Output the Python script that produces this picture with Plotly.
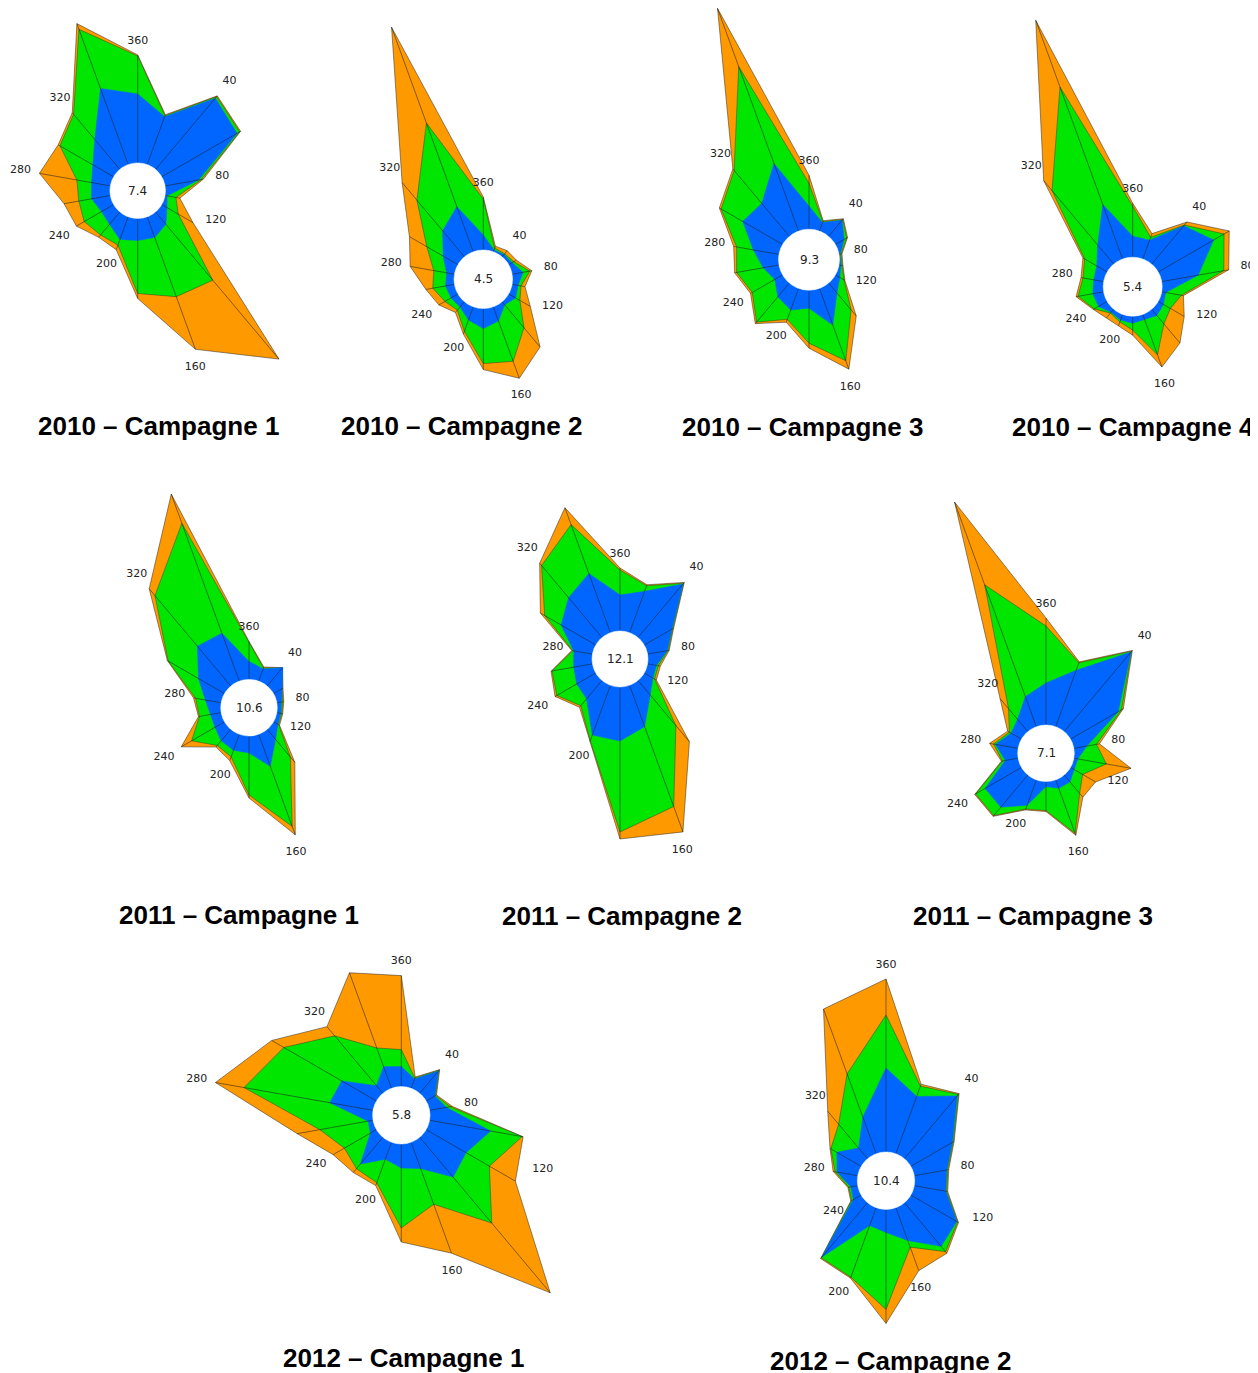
import math
import plotly.graph_objects as go

# ---------------- data ----------------
DIRECTIONS = [20, 40, 60, 80, 100, 120, 140, 160, 180, 200, 220, 240, 260, 280, 300, 320, 340, 360]
LABEL_DIRS = [40, 80, 120, 160, 200, 240, 280, 320, 360]

TITLES = ["2010 – Campagne 1", "2010 – Campagne 2", "2010 – Campagne 3", "2010 – Campagne 4",
          "2011 – Campagne 1", "2011 – Campagne 2", "2011 – Campagne 3",
          "2012 – Campagne 1", "2012 – Campagne 2"]
CALMS = [7.4, 4.5, 9.3, 5.4, 10.6, 12.1, 7.1, 5.8, 10.4]

# three stacked classes per direction (blue = inner, green = middle, orange = outer)
c2010_1_blue = [5.1, 9.3, 8.7, 3.4, 0.2, 0.6, 1.6, 2.2, 2.2, 2.4, 1.6, 1.4, 1.9, 1.9, 2.4, 3.9, 8.1, 6.9]
c2010_1_green = [0.1, 0.2, 0.3, 0.3, 0.9, 1.3, 7.3, 6.3, 5.3, 0.6, 1.4, 2.0, 1.3, 1.5, 3.8, 3.3, 6.3, 3.8]
c2010_1_orange = [0.1, 0.1, 0.1, 0.2, 0.4, 1.7, 10.3, 5.6, 0.5, 0.5, 0.3, 0.9, 1.5, 3.8, 0.2, 0.2, 0.6, 0.1]

c2010_2_blue = [0.2, 0.3, 0.4, 1.1, 0.6, 0.8, 0.4, 1.5, 2.0, 1.4, 0.7, 0.8, 0.9, 0.8, 1.7, 3.4, 4.8, 1.5]
c2010_2_green = [0.2, 0.1, 0.2, 0.7, 0.3, 0.5, 3.0, 4.3, 3.5, 1.2, 0.4, 0.7, 1.3, 1.3, 1.9, 4.0, 8.9, 3.6]
c2010_2_orange = [0.2, 0.4, 0.3, 0.2, 0.4, 1.2, 2.5, 1.8, 0.6, 0.3, 0.3, 0.7, 0.7, 2.4, 2.0, 2.3, 10.2, 0.2]

c2010_3_blue = [0.9, 2.1, 1.0, 0.1, 0.2, 0.5, 1.3, 3.9, 1.8, 2.3, 1.8, 0.9, 1.6, 2.6, 4.6, 4.3, 7.2, 2.3]
c2010_3_green = [0.1, 0.1, 0.3, 0.1, 0.1, 0.5, 2.2, 3.8, 3.5, 1.0, 3.3, 2.6, 2.7, 1.7, 2.5, 4.3, 10.3, 2.3]
c2010_3_orange = [0.1, 0.1, 0.1, 0.1, 0.1, 0.1, 0.8, 0.9, 0.5, 0.3, 0.2, 0.2, 0.2, 0.3, 0.2, 0.2, 6.2, 0.8]

c2010_4_blue = [2.0, 5.0, 6.4, 3.7, 0.4, 0.6, 0.8, 0.5, 0.7, 0.6, 0.4, 1.0, 1.1, 1.0, 1.2, 2.5, 5.8, 2.1]
c2010_4_green = [0.3, 0.1, 1.2, 2.6, 1.6, 0.8, 1.1, 3.8, 0.7, 0.2, 0.1, 0.5, 1.5, 1.1, 1.4, 7.1, 12.5, 3.0]
c2010_4_orange = [0.4, 0.4, 0.6, 0.5, 0.2, 1.6, 2.5, 1.3, 0.5, 0.4, 0.6, 0.1, 0.2, 0.2, 0.2, 1.3, 7.1, 0.3]

c2011_1_blue = [1.3, 2.4, 1.0, 0.5, 0.4, 0.5, 1.3, 3.4, 1.7, 1.7, 1.5, 1.1, 1.1, 1.6, 3.0, 5.2, 5.1, 1.8]
c2011_1_green = [0.1, 0.0, 0.0, 0.1, 0.1, 0.1, 2.3, 6.4, 4.2, 0.7, 0.6, 2.7, 1.1, 1.0, 3.5, 6.6, 11.7, 1.8]
c2011_1_orange = [0.1, 0.0, 0.1, 0.1, 0.1, 0.1, 0.7, 0.9, 0.3, 0.4, 0.2, 1.2, 0.1, 0.2, 0.1, 0.9, 3.1, 0.2]

c2011_2_blue = [4.4, 7.0, 3.2, 2.0, 0.9, 1.0, 1.9, 4.4, 5.4, 5.3, 2.4, 2.2, 1.9, 1.9, 4.0, 5.2, 6.3, 3.6]
c2011_2_green = [0.6, 0.1, 0.1, 0.1, 0.2, 0.2, 4.0, 8.5, 9.1, 0.6, 0.9, 2.3, 2.2, 0.1, 1.9, 4.2, 5.2, 2.5]
c2011_2_orange = [0.1, 0.1, 0.1, 0.1, 0.2, 0.2, 2.1, 2.7, 0.7, 0.1, 0.2, 0.2, 0.1, 0.1, 0.5, 0.3, 1.8, 0.2]

c2011_3_blue = [6.0, 10.4, 5.5, 1.3, 0.4, 0.4, 0.9, 0.9, 0.5, 2.7, 4.2, 4.2, 1.3, 2.3, 1.2, 1.6, 3.2, 4.2]
c2011_3_green = [0.8, 0.1, 0.4, 1.0, 2.9, 1.0, 1.5, 4.8, 2.4, 0.4, 1.1, 1.1, 0.3, 0.2, 0.2, 1.4, 11.9, 5.7]
c2011_3_orange = [0.1, 0.1, 0.2, 0.3, 2.5, 1.5, 0.5, 0.2, 0.1, 0.1, 0.1, 0.1, 0.1, 0.4, 0.2, 1.3, 8.8, 0.8]

c2012_1_blue = [1.0, 2.9, 1.0, 1.7, 6.2, 4.6, 5.2, 2.8, 2.4, 1.8, 3.5, 0.7, 0.5, 4.4, 4.0, 1.0, 2.3, 2.0]
c2012_1_green = [0.1, 0.1, 0.1, 0.4, 3.2, 2.7, 6.0, 3.8, 6.0, 2.5, 0.6, 3.0, 4.9, 8.7, 6.7, 6.5, 2.0, 1.7]
c2012_1_orange = [0.1, 0.1, 0.1, 0.2, 0.1, 3.0, 9.1, 5.2, 1.4, 0.3, 0.5, 1.3, 2.3, 2.9, 1.4, 1.2, 8.0, 7.4]

c2012_2_blue = [6.1, 8.2, 4.8, 3.3, 3.2, 5.3, 5.7, 3.5, 2.3, 1.9, 7.1, 0.9, 0.7, 2.1, 2.8, 1.4, 3.9, 8.4]
c2012_2_green = [1.1, 0.2, 0.1, 0.1, 0.1, 0.1, 0.7, 0.7, 7.7, 5.5, 0.1, 0.2, 0.2, 0.2, 0.7, 3.1, 4.6, 5.3]
c2012_2_orange = [0.2, 0.1, 0.1, 0.1, 0.1, 0.1, 0.2, 2.5, 1.4, 0.1, 0.1, 0.1, 0.1, 0.2, 0.1, 1.7, 6.9, 3.6]

SERIES = [
    (c2010_1_blue, c2010_1_green, c2010_1_orange),
    (c2010_2_blue, c2010_2_green, c2010_2_orange),
    (c2010_3_blue, c2010_3_green, c2010_3_orange),
    (c2010_4_blue, c2010_4_green, c2010_4_orange),
    (c2011_1_blue, c2011_1_green, c2011_1_orange),
    (c2011_2_blue, c2011_2_green, c2011_2_orange),
    (c2011_3_blue, c2011_3_green, c2011_3_orange),
    (c2012_1_blue, c2012_1_green, c2012_1_orange),
    (c2012_2_blue, c2012_2_green, c2012_2_orange),
]

# ---------------- layout / style ----------------
PAGE_MARGIN = 8                      # default body margin of the html page
W, H = 1258 - PAGE_MARGIN, 1373 - PAGE_MARGIN
PX_PER_UNIT = 10.0
# (center x px, center y px, calm-hole radius px) in page pixels
CHART_POS = [
    (137.7, 190.7, 27.8), (483.3, 279.3, 29.3), (809.0, 259.7, 30.5), (1132.7, 286.7, 29.5),
    (249.0, 707.7, 28.3), (620.0, 659.0, 28.0), (1046.0, 753.3, 28.3),
    (401.3, 1115.3, 28.7), (886.0, 1180.7, 28.7),
]
TITLE_POS = [(158, 426), (461, 426), (802, 427), (1133, 427),
             (239, 915), (622, 916), (1033, 916),
             (403, 1358), (890, 1361)]
# small angular nudges of the direction labels (degrees), as in the original layout
LABEL_ANGLE_NUDGE = {120: -9, 160: 2, 200: 3}

BLUE = "#0066FF"
GREEN = "#00E600"
ORANGE = "#FF9900"
EDGE = "rgba(40,40,40,0.85)"
LABEL_FONT = dict(family="DejaVu Sans", size=11, color="#222222")


def xy(radius, deg):
    a = math.radians(deg)
    return radius * math.sin(a), radius * math.cos(a)


fig = go.Figure()
layout_axes = {}
annotations = []
shapes = []

for i, (blue, green, orange) in enumerate(SERIES):
    n = i + 1
    xa, ya = ("x", "y") if n == 1 else (f"x{n}", f"y{n}")
    cx, cy, hole_px = CHART_POS[i]
    cx -= PAGE_MARGIN
    cy -= PAGE_MARGIN
    hole = hole_px / PX_PER_UNIT

    cum1 = list(blue)
    cum2 = [a + b for a, b in zip(cum1, green)]
    cum3 = [a + b for a, b in zip(cum2, orange)]

    common = dict(xaxis=xa, yaxis=ya, hoverinfo="skip", showlegend=False)

    for cum, fc, lc, lw in ((cum3, ORANGE, EDGE, 0.6), (cum2, GREEN, EDGE, 0.5), (cum1, BLUE, BLUE, 0.5)):
        pts = [xy(hole + v, d) for v, d in zip(cum, DIRECTIONS)]
        pts.append(pts[0])
        fig.add_trace(go.Scatter(x=[p[0] for p in pts], y=[p[1] for p in pts], mode="lines",
                                 fill="toself", fillcolor=fc, line=dict(color=lc, width=lw), **common))

    # rays from the calm circle to the outer vertex
    rx, ry = [], []
    for d, v in zip(DIRECTIONS, cum3):
        x0, y0 = xy(hole, d)
        x1, y1 = xy(hole + v, d)
        rx += [x0, x1, None]
        ry += [y0, y1, None]
    fig.add_trace(go.Scatter(x=rx, y=ry, mode="lines", connectgaps=False,
                             line=dict(color="rgba(30,30,30,0.9)", width=0.6), **common))

    # white calm circle
    shapes.append(dict(type="circle", xref=xa, yref=ya, x0=-hole, x1=hole, y0=-hole, y1=hole,
                       fillcolor="white", line=dict(color="white", width=0.5), layer="above"))

    # direction labels just outside the outer polygon
    lx, ly, lt = [], [], []
    for d in LABEL_DIRS:
        k = DIRECTIONS.index(d)
        a = math.radians(d)
        ext = abs(math.sin(a)) * 10.2 + abs(math.cos(a)) * 6.0
        px, py = xy(hole + cum3[k] + (8.0 + ext) / PX_PER_UNIT, d + LABEL_ANGLE_NUDGE.get(d, 0))
        lx.append(px)
        ly.append(py)
        lt.append(str(d))
    fig.add_trace(go.Scatter(x=lx, y=ly, mode="text", text=lt, textposition="middle center",
                             textfont=LABEL_FONT, cliponaxis=False, **common))

    # calm value at the centre
    annotations.append(dict(x=0, y=0, xref=xa, yref=ya, text=str(CALMS[i]), showarrow=False,
                            font=dict(family="DejaVu Sans", size=12, color="#222222"),
                            xanchor="center", yanchor="middle"))

    # axes: one full-page coordinate frame per chart, centred on the chart, 10 px per unit
    xkey = "xaxis" if n == 1 else f"xaxis{n}"
    ykey = "yaxis" if n == 1 else f"yaxis{n}"
    layout_axes[xkey] = dict(domain=[0, 1], anchor=ya, range=[-cx / PX_PER_UNIT, (W - cx) / PX_PER_UNIT],
                             visible=False, showgrid=False, zeroline=False, fixedrange=True)
    layout_axes[ykey] = dict(domain=[0, 1], anchor=xa, range=[-(H - cy) / PX_PER_UNIT, cy / PX_PER_UNIT],
                             visible=False, showgrid=False, zeroline=False, fixedrange=True)

    tx, ty = TITLE_POS[i]
    annotations.append(dict(x=(tx - PAGE_MARGIN) / W, y=1 - (ty - PAGE_MARGIN) / H,
                            xref="paper", yref="paper",
                            text=f"<b>{TITLES[i]}</b>", showarrow=False,
                            font=dict(family="Liberation Sans, Arial", size=26, color="black"),
                            xanchor="center", yanchor="middle"))

fig.update_layout(width=W, height=H, margin=dict(l=0, r=0, t=0, b=0),
                  paper_bgcolor="white", plot_bgcolor="rgba(0,0,0,0)",
                  annotations=annotations, shapes=shapes, **layout_axes)

fig.write_html("out.html")
